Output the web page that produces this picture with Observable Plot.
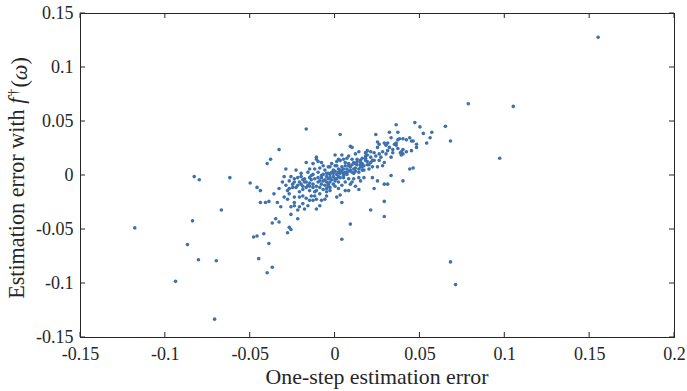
<!DOCTYPE html>
<html><head><meta charset="utf-8">
<script src="https://cdn.jsdelivr.net/npm/d3@7"></script>
<script src="https://cdn.jsdelivr.net/npm/@observablehq/plot@0.6"></script>
<style>html,body{margin:0;padding:0;background:#fff;} svg{display:block}</style>
</head><body><div id="chart"></div>
<script>
// x: one-step estimation error, y: estimation error with f†(ω)
const outliers = [[0.155,0.128],[0.0785,0.0665],[0.105,0.064],[0.097,0.016],[0.065,0.0455],[0.068,0.032],[0.068,-0.080],[0.071,-0.101],[-0.118,-0.0485],[-0.067,-0.032],[-0.084,-0.042],[-0.087,-0.064],[-0.0805,-0.078],[-0.070,-0.079],[-0.094,-0.098],[-0.071,-0.133],[-0.083,-0.001],[-0.080,-0.004],[-0.062,-0.002],[-0.045,-0.077],[-0.037,-0.085],[-0.040,-0.090],[-0.039,-0.063],[-0.048,-0.057],[-0.046,-0.056],[-0.042,-0.054],[-0.017,0.043],[0.003,0.038],[0.004,-0.059],[0.009,-0.045],[-0.050,-0.007],[-0.046,-0.011],[-0.044,-0.014],[-0.044,-0.025],[-0.041,-0.025],[-0.039,-0.024],[-0.038,0.015],[-0.040,0.011],[-0.033,0.024]];
const upperArm = [[0.036,0.047],[0.047,0.049],[0.050,0.045],[0.052,0.039],[0.057,0.040],[0.056,0.035],[0.054,0.030],[0.024,0.038],[0.032,0.040],[0.037,0.040],[0.033,0.035],[0.038,0.034],[0.040,0.034],[0.042,0.033],[0.044,0.035],[0.045,0.032],[0.037,0.033],[0.025,0.031],[0.026,0.029],[0.029,0.030],[0.030,0.028],[0.031,0.030],[0.032,0.026],[0.035,0.029],[0.036,0.028],[0.034,0.024],[0.037,0.025],[0.039,0.022],[0.040,0.020],[0.042,0.022],[0.045,0.023],[0.048,0.026],[0.048,0.029],[0.030,0.020],[0.033,0.017],[0.025,0.026],[0.023,0.021],[0.021,0.022],[0.019,0.019],[0.019,0.023],[0.018,0.021],[0.018,0.018],[0.016,0.016],[0.044,0.006],[0.046,0.007],[0.040,-0.005],[0.033,0.000],[0.029,-0.008],[0.031,-0.008],[0.023,-0.012],[0.029,-0.024],[0.021,-0.032],[0.029,-0.038],[0.0385,0.021],[0.039,0.019],[0.040,0.024],[0.046,0.032]];
const middle = [[0.009,0.027],[0.010,0.026],[0.004,0.019],[0.000,0.019],[0.007,0.016],[0.010,0.015],[0.013,0.015],[0.015,0.014],[0.015,0.010],[0.012,0.011],[0.015,0.008],[0.011,0.006],[0.008,0.009],[0.006,0.012],[0.003,0.014],[0.002,0.015],[0.000,0.009],[0.001,0.013],[-0.003,0.008],[-0.001,0.005],[0.003,0.005],[0.005,0.002],[0.007,0.003],[0.009,0.005],[0.011,0.002],[0.014,0.003],[0.017,0.005],[0.019,0.010],[0.021,0.012],[0.023,0.014],[0.018,0.014],[0.016,0.008],[0.020,0.006],[0.022,0.008],[0.025,0.008],[0.028,0.009],[0.026,0.014],[0.029,0.012],[0.022,-0.002],[0.025,-0.005],[0.017,-0.002],[0.014,-0.002],[0.011,-0.003],[0.008,-0.003],[0.005,-0.002],[0.002,-0.001],[0.000,-0.003],[-0.003,-0.002],[-0.005,0.002],[-0.006,0.005],[-0.004,-0.008],[-0.001,-0.008],[0.002,-0.006],[0.004,-0.009],[0.006,-0.014],[0.008,-0.014],[0.009,-0.008],[0.012,-0.010],[0.014,-0.013],[0.001,-0.020],[0.003,-0.018],[0.004,-0.025],[-0.003,-0.014],[-0.005,-0.012],[-0.007,-0.005],[-0.008,0.000],[-0.010,0.003],[-0.012,0.006],[-0.013,0.011],[-0.010,0.013],[-0.011,0.017],[-0.011,0.015],[-0.017,0.012],[-0.015,0.006],[-0.008,0.012]];
const leftPart = [[-0.013,0.001],[-0.015,-0.002],[-0.015,-0.007],[-0.017,-0.006],[-0.019,-0.010],[-0.021,-0.015],[-0.019,-0.013],[-0.023,-0.011],[-0.025,-0.008],[-0.027,-0.005],[-0.029,-0.009],[-0.028,-0.014],[-0.025,-0.011],[-0.027,-0.017],[-0.028,-0.022],[-0.024,-0.020],[-0.024,-0.025],[-0.021,-0.020],[-0.019,-0.019],[-0.017,-0.021],[-0.015,-0.023],[-0.014,-0.019],[-0.013,-0.023],[-0.011,-0.031],[-0.009,-0.028],[-0.005,-0.019],[-0.006,-0.022],[-0.005,-0.015],[-0.003,-0.011],[-0.029,0.006],[-0.030,-0.001],[-0.023,0.005],[-0.020,0.002],[-0.020,-0.001],[-0.022,-0.002],[-0.026,-0.001],[-0.024,-0.006],[-0.021,-0.006],[-0.018,-0.003],[-0.013,-0.011],[-0.011,-0.014],[-0.010,-0.006],[-0.009,-0.011],[-0.015,-0.014],[-0.012,-0.019],[-0.009,-0.017],[-0.008,-0.023],[-0.011,-0.022],[-0.016,-0.028],[-0.019,-0.026],[-0.021,-0.029],[-0.022,-0.032],[-0.026,-0.029],[-0.024,-0.028],[-0.018,-0.031],[-0.036,-0.017],[-0.032,-0.029],[-0.022,-0.040],[-0.026,-0.036],[-0.027,-0.048],[-0.026,-0.050],[-0.028,-0.053],[-0.035,-0.040],[-0.037,-0.044],[-0.033,-0.043]];
const coreFill = [[-0.020,-0.008],[-0.018,-0.006],[-0.016,-0.009],[-0.014,-0.004],[-0.013,-0.008],[-0.012,-0.003],[-0.011,-0.010],[-0.010,-0.002],[-0.009,-0.005],[-0.008,-0.008],[-0.008,-0.002],[-0.007,0.001],[-0.006,-0.004],[-0.006,-0.009],[-0.005,-0.001],[-0.005,-0.006],[-0.004,0.002],[-0.004,-0.003],[-0.003,-0.006],[-0.003,0.001],[-0.002,-0.004],[-0.002,0.003],[-0.001,-0.001],[-0.001,0.002],[0.000,-0.005],[0.000,0.004],[0.001,0.001],[0.001,-0.003],[0.002,0.003],[0.002,0.006],[0.003,-0.002],[0.003,0.002],[0.004,0.004],[0.004,0.008],[0.005,0.000],[0.005,0.006],[0.006,0.003],[0.006,0.009],[0.007,0.006],[0.007,0.001],[0.008,0.004],[0.008,0.011],[0.009,0.008],[0.010,0.003],[0.010,0.010],[0.011,0.012],[0.012,0.007],[0.012,0.004],[0.013,0.010],[0.013,0.013],[0.014,0.006],[0.015,0.012],[0.016,0.011],[0.016,0.005],[0.017,0.009],[0.018,0.016],[0.019,0.013],[0.020,0.010],[0.021,0.017],[0.022,0.014],[0.024,0.018],[0.026,0.020],[0.027,0.017],[0.028,0.022],[0.031,0.023],[0.034,0.021],[0.036,0.030],[-0.024,-0.003],[-0.022,-0.009],[-0.019,-0.004],[-0.017,-0.011],[-0.015,-0.010],[-0.012,-0.015],[-0.007,-0.013],[-0.004,-0.010],[0.000,-0.010],[0.002,-0.012],[0.006,-0.006],[0.010,-0.006],[0.015,-0.005],[-0.016,0.003],[-0.014,0.000],[-0.009,0.007],[-0.007,0.009],[-0.004,0.008],[-0.002,0.011],[0.001,0.009],[0.005,0.015],[0.008,0.018],[0.012,0.020],[0.014,0.022],[0.018,0.021],[-0.027,-0.012],[-0.031,-0.006],[-0.033,-0.012],[-0.030,-0.020],[-0.034,-0.025]];
const xTicks = [-0.15,-0.1,-0.05,0,0.05,0.1,0.15,0.2];
const yTicks = [-0.15,-0.1,-0.05,0,0.05,0.1,0.15];
const xDomain = [-0.15,0.2];
const yDomain = [-0.15,0.15];
const xLabel = "One-step estimation error";

const points = [...outliers,...upperArm,...middle,...leftPart,...coreFill].map(([x,y])=>({x,y}));
const fmt = d => (d<0?"-":"") + String(Math.abs(Math.round(d*100)/100));
const FONT = "'Liberation Serif', 'Times New Roman', serif";
const INK = "#262626";

const chart = Plot.plot({
  width:687, height:391,
  marginLeft:80, marginRight:13, marginTop:13, marginBottom:54,
  style:{fontFamily:FONT, fontSize:"18px", color:INK, background:"#fff"},
  x:{domain:xDomain, label:null},
  y:{domain:yDomain, label:null},
  marks:[
    Plot.axisX(xTicks,{anchor:"bottom", tickSize:0, tickPadding:10, tickFormat:fmt, fontSize:18, label:null}),
    Plot.axisY(yTicks,{anchor:"left", tickSize:0, tickPadding:7, tickFormat:fmt, fontSize:18, label:null}),
    Plot.dot(points,{x:"x", y:"y", r:1.8, fill:"#3d71ad"}),
    Plot.frame({stroke:INK, strokeWidth:1})
  ]
});
document.getElementById("chart").appendChild(chart);

const svg = d3.select(chart);
const sx = chart.scale("x"), sy = chart.scale("y");
const [x0,x1] = sx.range, [y0,y1] = sy.range; // y0 bottom, y1 top
const g = svg.append("g").attr("stroke",INK).attr("stroke-width",1);
const T = 5;
for (const t of xTicks) {
  const px = sx.apply(t);
  g.append("line").attr("x1",px).attr("x2",px).attr("y1",y0).attr("y2",y0-T);
  g.append("line").attr("x1",px).attr("x2",px).attr("y1",y1).attr("y2",y1+T);
}
for (const t of yTicks) {
  const py = sy.apply(t);
  g.append("line").attr("y1",py).attr("y2",py).attr("x1",x0).attr("x2",x0+T);
  g.append("line").attr("y1",py).attr("y2",py).attr("x1",x1).attr("x2",x1-T);
}

// x label
const xl = svg.append("text").attr("x",(x0+x1)/2).attr("y",384)
  .attr("text-anchor","middle").attr("fill",INK)
  .style("font-family",FONT).style("font-size","18px").text(xLabel);
const wX = xl.node().getComputedTextLength();
xl.style("font-size", (18*223/wX).toFixed(2)+"px");

// y label
const yl = svg.append("text").attr("transform",`translate(24,${(y0+y1)/2 + 3}) rotate(-90)`)
  .attr("text-anchor","middle").attr("fill",INK)
  .style("font-family",FONT).style("font-size","18px");
yl.append("tspan").text("Estimation error with ");
yl.append("tspan").style("font-style","italic").text("f");
yl.append("tspan").attr("dx","0.12em").attr("dy","-0.42em").style("font-size","0.65em").text("\u2020");
yl.append("tspan").attr("dx","0.05em").attr("dy","0.42em").text("(");
yl.append("tspan").style("font-style","italic").text("\u03C9");
yl.append("tspan").text(")");
const wY = yl.node().getComputedTextLength();
yl.style("font-size", (18*239/wY).toFixed(2)+"px");
</script>
</body></html>
